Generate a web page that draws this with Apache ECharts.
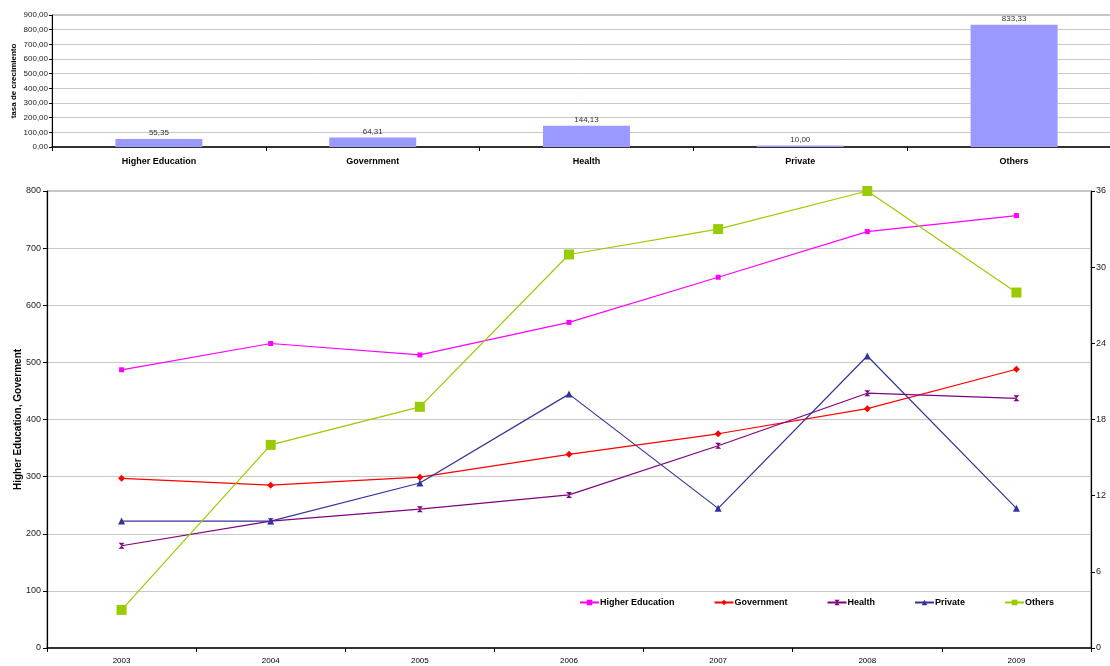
<!DOCTYPE html>
<html>
<head>
<meta charset="utf-8">
<script src="https://cdn.jsdelivr.net/npm/echarts@6/dist/echarts.min.js"></script>
<style>
  html, body { margin: 0; padding: 0; background: #fff; }
  #chart { width: 1110px; height: 666px; }
</style>
</head>
<body>
<div id="chart"></div>
<script>
// Growth rate per sector (upper bar panel)
const sectors = ['Higher Education', 'Government', 'Health', 'Private', 'Others'];
const growthRates = [55.35, 64.31, 144.13, 10.00, 833.33];

// Yearly series (lower line panel)
const years = ['2003', '2004', '2005', '2006', '2007', '2008', '2009'];
const higherEducation = [487, 533, 513, 570, 649, 729, 757];
const government = [297, 285, 299, 339, 375, 419, 488];
const health = [179, 222, 243, 268, 354, 446, 437];
const privateSector = [10, 10, 13, 20, 11, 23, 11];   // right axis
const others = [3, 16, 19, 31, 33, 36, 28];            // right axis

const FONT = "'Liberation Sans', Arial, sans-serif";
const comma = v => Number(v).toFixed(2).replace('.', ',');
const gridLine = { show: true, lineStyle: { color: '#c8c8c8', width: 1 } };

const chart = echarts.init(document.getElementById('chart'), null, { renderer: 'canvas' });

const lineSeries = (name, data, color, symbol, size, yIndex) => ({
  name, type: 'line', data,
  xAxisIndex: 1, yAxisIndex: yIndex,
  symbol, symbolSize: size, showSymbol: true,
  lineStyle: { color, width: 1.2 },
  itemStyle: { color, borderColor: color, borderWidth: 0 },
  emphasis: { disabled: true },
  animation: false,
  z: 3
});

chart.setOption({
  animation: false,
  textStyle: { fontFamily: FONT },
  grid: [
    { left: 52, right: -11, top: 15, bottom: 519, outerBoundsMode: 'none', containLabel: false,
      show: true, borderColor: '#888', borderWidth: 1 },
    { left: 47, right: 19, top: 191, bottom: 18, outerBoundsMode: 'none', containLabel: false,
      show: true, borderColor: '#888', borderWidth: 1 }
  ],
  legend: {
    data: ['Higher Education', 'Government', 'Health', 'Private', 'Others'],
    left: 579, top: 598, padding: 0,
    itemWidth: 19, itemHeight: 7, itemGap: 39,
    textStyle: { fontFamily: FONT, fontSize: 9, fontWeight: 'bold', color: '#000', padding: [0, 0, 0, -4] }
  },
  xAxis: [
    {
      gridIndex: 0, type: 'category', data: sectors,
      axisLine: { lineStyle: { color: '#000', width: 1.5 } },
      axisTick: { show: true, alignWithLabel: false, length: 4, lineStyle: { color: '#000' } },
      axisLabel: { color: '#000', fontSize: 9, fontWeight: 'bold', margin: 10, interval: 0 },
      splitLine: { show: false }
    },
    {
      gridIndex: 1, type: 'category', data: years,
      axisLine: { lineStyle: { color: '#000', width: 1.5 } },
      axisTick: { show: true, length: 4, lineStyle: { color: '#000' } },
      axisLabel: { color: '#000', fontSize: 8, margin: 9, interval: 0 },
      splitLine: { show: false }
    }
  ],
  yAxis: [
    {
      gridIndex: 0, type: 'value', min: 0, max: 900, interval: 100,
      name: 'tasa de crecimiento', nameLocation: 'middle', nameGap: 34, nameRotate: 90,
      nameMoveOverlap: false,
      nameTextStyle: { fontSize: 8, fontWeight: 'bold', color: '#000' },
      axisLine: { show: true, lineStyle: { color: '#000', width: 1 } },
      axisTick: { show: true, length: 3, lineStyle: { color: '#000' } },
      axisLabel: { fontSize: 8, color: '#222', margin: 4, formatter: comma },
      splitLine: gridLine
    },
    {
      gridIndex: 1, type: 'value', min: 0, max: 800, interval: 100,
      name: 'Higher Education, Goverment', nameLocation: 'middle', nameGap: 24, nameRotate: 90,
      nameMoveOverlap: false,
      nameTextStyle: { fontSize: 10, fontWeight: 'bold', color: '#000' },
      axisLine: { show: true, lineStyle: { color: '#000', width: 1.2 } },
      axisTick: { show: true, length: 4, lineStyle: { color: '#000' } },
      axisLabel: { fontSize: 9, color: '#222', margin: 6 },
      splitLine: gridLine
    },
    {
      gridIndex: 1, type: 'value', position: 'right', min: 0, max: 36, interval: 6,
      axisLine: { show: true, lineStyle: { color: '#000', width: 1.2 } },
      axisTick: { show: true, length: 4, lineStyle: { color: '#000' } },
      axisLabel: { fontSize: 9, color: '#222', margin: 5 },
      splitLine: { show: false }
    }
  ],
  series: [
    {
      name: 'tasa', type: 'bar', data: growthRates,
      xAxisIndex: 0, yAxisIndex: 0,
      barWidth: 87,
      itemStyle: { color: '#9999ff' },
      label: { show: true, position: 'top', distance: 2, fontSize: 8, color: '#333', formatter: p => comma(p.value) },
      emphasis: { disabled: true }
    },
    lineSeries('Higher Education', higherEducation, '#ff00ff', 'rect', 5, 1),
    lineSeries('Government', government, '#ff0000', 'diamond', 7, 1),
    lineSeries('Health', health, '#800080', 'path://M0,0L10,0L5,5L10,10L0,10L5,5Z', 6, 1),
    lineSeries('Private', privateSector, '#333399', 'triangle', 7, 2),
    lineSeries('Others', others, '#99cc00', 'rect', 10, 2)
  ]
});
</script>
</body>
</html>
